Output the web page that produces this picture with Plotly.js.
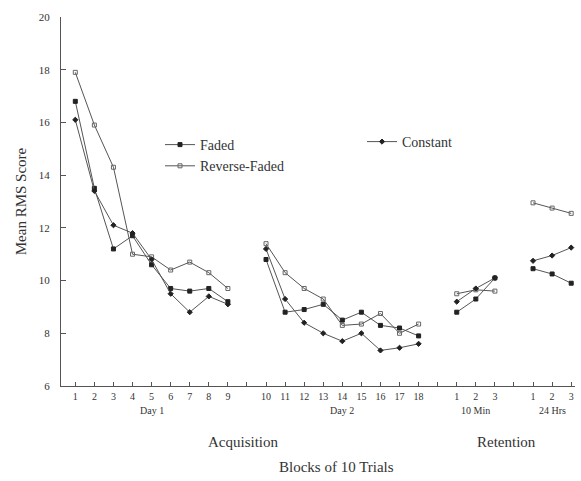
<!DOCTYPE html>
<html>
<head>
<meta charset="utf-8">
<script src="https://cdn.plot.ly/plotly-3.0.1.min.js"></script>
<style>html,body{margin:0;padding:0;background:#fff;}#chart{width:581px;height:481px;}</style>
</head>
<body>
<div id="chart"></div>
<script>
// Slot positions on the x axis (gap slots 10 and 24 hold no data)
const positions = [1,2,3,4,5,6,7,8,9,10,11,12,13,14,15,16,17,18,19,20,21,22,23,24,25,26,27];
const tickLabels = ["1","2","3","4","5","6","7","8","9","","10","11","12","13","14","15","16","17","18","","1","2","3","","1","2","3"];

// Mean RMS scores (null = break between phases)
const faded =        [16.8,13.5,11.2,11.7,10.6,9.7,9.6,9.7,9.2, null, 10.8,8.8,8.9,9.1,8.5,8.8,8.3,8.2,7.9, null, 8.8,9.3,10.1, null, 10.45,10.25,9.9];
const reverseFaded = [17.9,15.9,14.3,11.0,10.9,10.4,10.7,10.3,9.7, null, 11.4,10.3,9.7,9.3,8.3,8.35,8.75,8.0,8.35, null, 9.5,9.65,9.6, null, 12.95,12.75,12.55];
const constant =     [16.1,13.4,12.1,11.8,10.8,9.5,8.8,9.4,9.1, null, 11.2,9.3,8.4,8.0,7.7,8.0,7.35,7.45,7.6, null, 9.2,9.7,10.1, null, 10.75,10.95,11.25];

const groupLabels = ["Day 1","Day 2","10 Min","24 Hrs"];
const groupCenters = [5,15,22,26];
const phaseLabels = ["Acquisition","Retention"];
const phaseCenters = [9.8,23.6];

const serif = "Liberation Serif, Times New Roman, serif";
const ink = "#333333";
const lineCol = "#555555";

function trace(name, y, symbol, legend, col){
  return {
    x: positions, y: y, name: name, type: "scatter", mode: "lines+markers",
    connectgaps: false, legend: legend,
    line: {color: lineCol, width: 1},
    marker: {symbol: symbol, size: 4, color: col, line: {color: col, width: 1}},
  };
}
const data = [
  trace("Faded", faded, "square", "legend", "#222"),
  trace("Reverse-Faded", reverseFaded, "square-open", "legend", "#666"),
  trace("Constant", constant, "diamond", "legend2", "#222")
];

const annotations = [];
groupLabels.forEach((t,i)=>annotations.push({text:t, x:groupCenters[i], xref:"x", y:-0.066, yref:"paper", showarrow:false, yanchor:"middle", font:{family:serif,size:10,color:ink}}));
phaseLabels.forEach((t,i)=>annotations.push({text:t, x:phaseCenters[i], xref:"x", y:-0.152, yref:"paper", showarrow:false, yanchor:"middle", font:{family:serif,size:15,color:ink}}));
annotations.push({text:"Blocks of 10 Trials", x:14.7, xref:"x", y:-0.22, yref:"paper", showarrow:false, yanchor:"middle", font:{family:serif,size:15,color:ink}});

const layout = {
  width: 581, height: 481,
  margin: {l: 61, r: 6, t: 17, b: 95},
  paper_bgcolor: "#fff", plot_bgcolor: "#fff",
  font: {family: serif, color: ink},
  showlegend: true,
  legend: {x: (160-61)/514, xanchor: "left", y: (386-129)/369, yanchor: "top", font: {family: serif, size: 14, color: ink}, bgcolor: "rgba(0,0,0,0)", itemwidth: 30, tracegroupgap: 0},
  legend2: {x: (362-61)/514, xanchor: "left", y: (386-126)/369, yanchor: "top", font: {family: serif, size: 14, color: ink}, bgcolor: "rgba(0,0,0,0)", itemwidth: 30},
  xaxis: {
    range: [0.25, 27.2], tickmode: "array", tickvals: positions, ticktext: tickLabels,
    ticks: "inside", ticklen: 4, tickcolor: lineCol, showline: true, linecolor: lineCol, linewidth: 1,
    showgrid: false, zeroline: false, tickfont: {family: serif, size: 10, color: ink}, tickangle: 0, ticklabelstandoff: 1
  },
  yaxis: {
    range: [6, 20], tickmode: "array", tickvals: [6,8,10,12,14,16,18,20],
    ticks: "inside", ticklen: 5, tickcolor: lineCol, showline: true, linecolor: lineCol, linewidth: 1,
    showgrid: false, zeroline: false, tickfont: {family: serif, size: 11, color: ink}, ticklabelstandoff: 8,
    title: {text: "Mean RMS Score", font: {family: serif, size: 15, color: ink}, standoff: 8}
  },
  annotations: annotations
};
Plotly.newPlot("chart", data, layout, {staticPlot: true, displayModeBar: false});
</script>
</body>
</html>
